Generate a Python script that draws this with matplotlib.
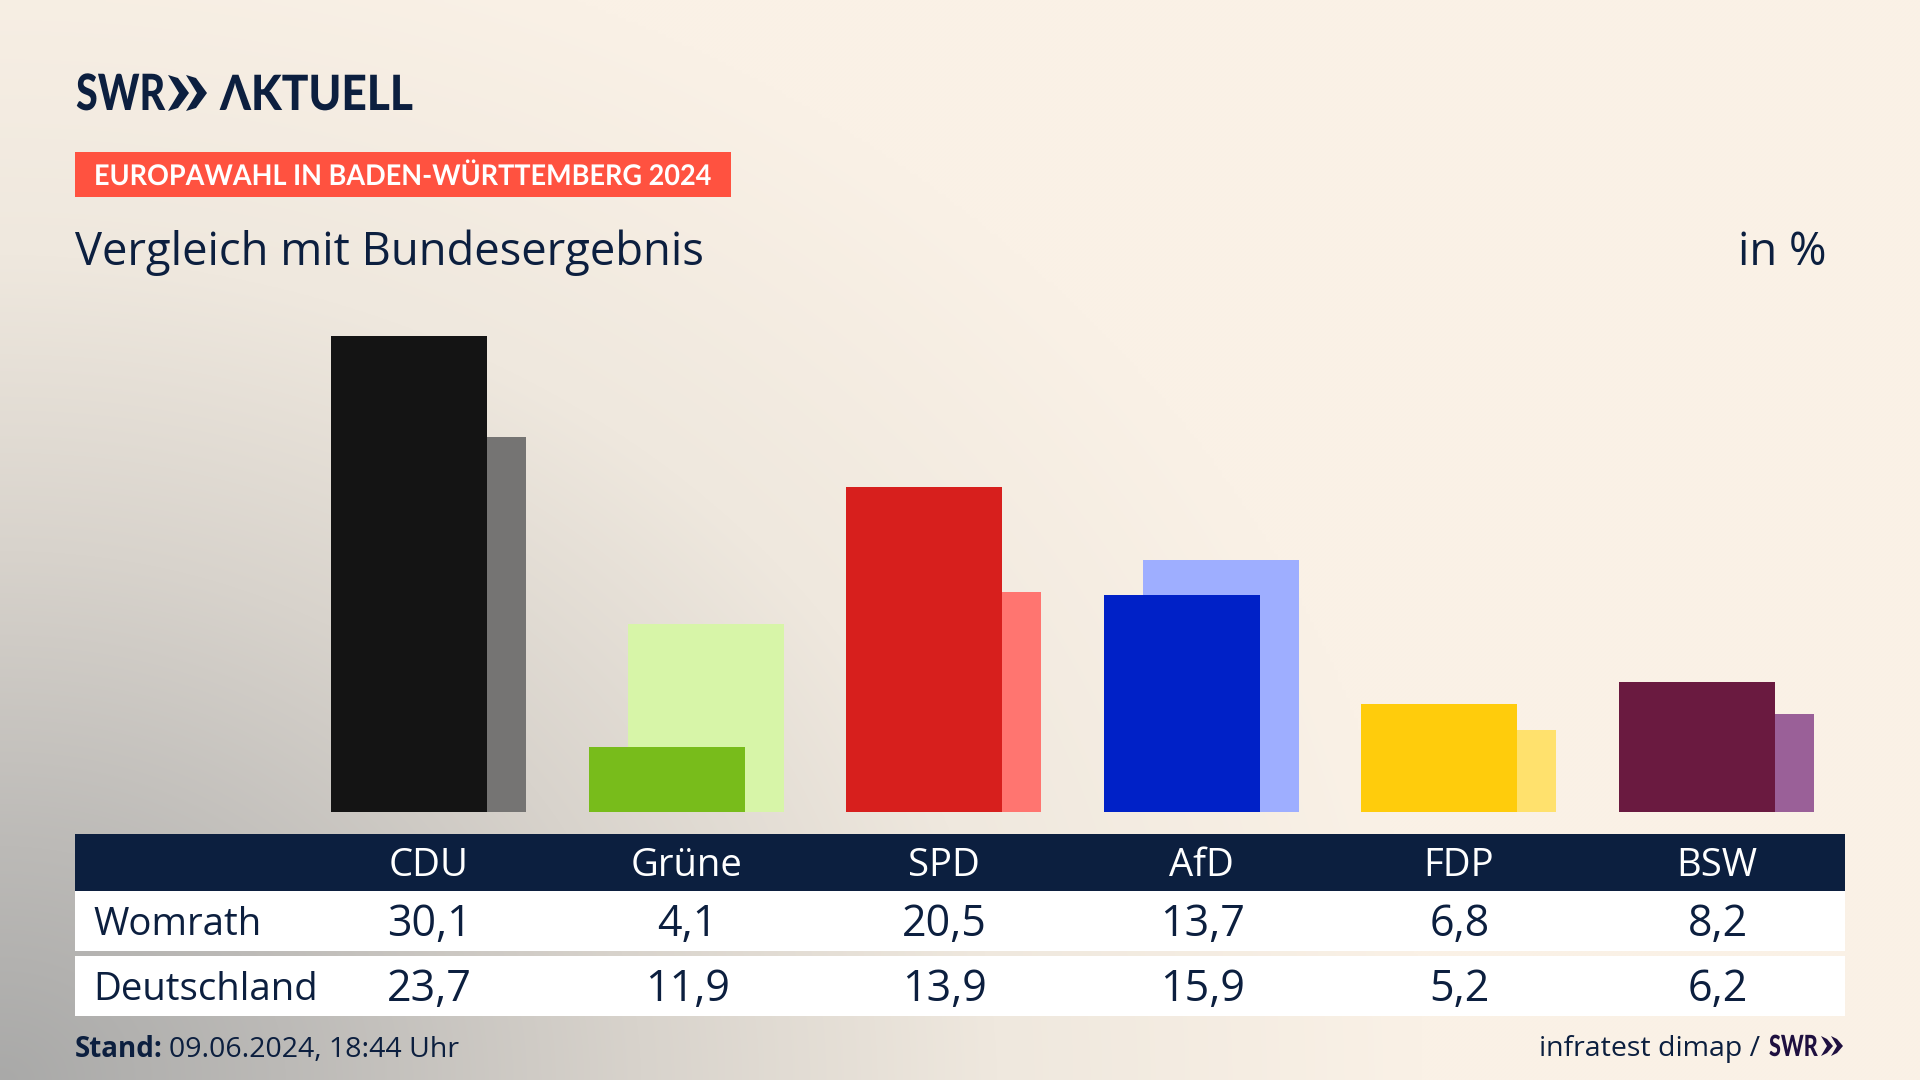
import numpy as np
import matplotlib
matplotlib.use("Agg")
import matplotlib.pyplot as plt
from matplotlib.patches import Rectangle, Polygon
from matplotlib.patheffects import AbstractPathEffect
from matplotlib.transforms import Affine2D
from matplotlib.colors import to_rgb

parties = ["CDU", "Grüne", "SPD", "AfD", "FDP", "BSW"]
womrath = [30.1, 4.1, 20.5, 13.7, 6.8, 8.2]
deutschland = [23.7, 11.9, 13.9, 15.9, 5.2, 6.2]
main_colors = ["#141414", "#78BC1B", "#D71F1D", "#0021C7", "#FFCC0C", "#6A1A40"]
back_colors = ["#757473", "#D7F5A8", "#FF7570", "#9EAEFF", "#FFE16D", "#9A6098"]
row_labels = ["Womrath", "Deutschland"]

NAVY = "#0C1F3F"
FONT = "Open Sans"

W, H = 1920, 1080
fig = plt.figure(figsize=(W / 100, H / 100), dpi=100)


class Condense(AbstractPathEffect):
    """Draw a text narrower than its font, keeping it a text artist."""

    def __init__(self, sx):
        super().__init__()
        self.sx = sx

    def draw_path(self, renderer, gc, tpath, affine, rgbFace=None):
        renderer.draw_path(gc, tpath, Affine2D().scale(self.sx, 1) + affine, rgbFace)


def box(x0, y0, x1, y1):
    return [x0 / W, 1 - y1 / H, (x1 - x0) / W, (y1 - y0) / H]


# page layer in pixel coordinates
bg = fig.add_axes([0, 0, 1, 1])
xx, yy = np.meshgrid(np.arange(0, W, 4), np.arange(0, H, 4))
t = np.clip(np.sqrt((xx / 1420) ** 2 + ((H - yy) / 1180) ** 2), 0, 1)
stops = [0, 0.2, 0.45, 0.7, 1]
cols = [to_rgb(c) for c in ["#A9A9A8", "#BCBAB7", "#D8D3CC", "#EFE8DE", "#FAF1E6"]]
img = np.dstack([np.interp(t, stops, [c[k] for c in cols]) for k in range(3)])
bg.imshow(img, extent=(0, W, H, 0), aspect="auto", interpolation="bilinear", zorder=0)
bg.set_xlim(0, W)
bg.set_ylim(H, 0)
bg.axis("off")


def chevrons(ax, x, top, bottom, w, gap, thick, color):
    mid = (top + bottom) / 2
    for k in range(2):
        x0 = x + k * gap
        ax.add_patch(Polygon([(x0, top), (x0 + thick, top + 3), (x0 + w, mid),
                              (x0 + thick, bottom - 3), (x0, bottom),
                              (x0 + w - thick, mid)], closed=True, fc=color, ec="none", zorder=3))


# logo
bg.text(76, 110, "SWR", family="Lato", weight="black", fontsize=36, color=NAVY, va="baseline", zorder=3,
        path_effects=[Condense(0.79)])
chevrons(bg, 168, 75, 111, 21, 18, 10, NAVY)
bg.text(220, 110, "ΛKTUELL", family=["Lato", "DejaVu Sans"], weight="black", fontsize=35, color=NAVY,
        va="baseline", zorder=3, path_effects=[Condense(0.91)])

# banner
bg.add_patch(Rectangle((75, 152), 656, 45, fc="#FF5240", ec="none", zorder=2))
bg.text(94, 185, "EUROPAWAHL IN BADEN-WÜRTTEMBERG 2024", family="Lato", weight="bold",
        fontsize=20.5, color="white", va="baseline", zorder=3, path_effects=[Condense(0.95)])

# headline
bg.text(75, 265, "Vergleich mit Bundesergebnis", family=FONT, fontsize=32.7, color=NAVY, va="baseline", zorder=3)
bg.text(1826, 265, "in %", family=FONT, fontsize=32.7, color=NAVY, ha="right", va="baseline", zorder=3)

# footer
bg.text(75, 1057, "Stand:", family=FONT, weight="bold", fontsize=20, color=NAVY, va="baseline", zorder=3)
bg.text(169, 1057, "09.06.2024, 18:44 Uhr", family=FONT, fontsize=20.5, color=NAVY, va="baseline", zorder=3)
bg.text(1760, 1056, "infratest dimap /", family=FONT, fontsize=20.5, color=NAVY, ha="right", va="baseline", zorder=3)
bg.text(1769, 1056, "SWR", family="Lato", weight="black", fontsize=21, color="#1F1040", va="baseline", zorder=3,
        path_effects=[Condense(0.74)])
chevrons(bg, 1821, 1036, 1056, 12, 10, 6, "#1F1040")

# bars
PITCH = 257.6
LEFT = 331
PX_PER_UNIT = 15.83
BAR = 156 / PITCH
OFFSET = 39 / PITCH
CENTER = 97.5 / PITCH
xlim = ((75 - LEFT) / PITCH, (1845 - LEFT) / PITCH)

ax = fig.add_axes(box(75, 300, 1845, 812))
ax.patch.set_alpha(0)
ax.set_xlim(*xlim)
ax.set_ylim(0, 512 / PX_PER_UNIT)
ax.axis("off")
idx = np.arange(len(parties))
ax.bar(idx + OFFSET, deutschland, width=BAR, align="edge", color=back_colors, zorder=1)
ax.bar(idx, womrath, width=BAR, align="edge", color=main_colors, zorder=2)

# table
tb = fig.add_axes(box(75, 834, 1845, 1016))
tb.patch.set_alpha(0)
tb.set_xlim(*xlim)
tb.set_ylim(1016, 834)
tb.axis("off")
tb.axhspan(834, 891, color=NAVY, lw=0)
tb.axhspan(891, 951, color="white", lw=0)
tb.axhspan(956, 1016, color="white", lw=0)
label_x = xlim[0] + 18.5 / PITCH
for i, p in enumerate(parties):
    tb.text(i + CENTER, 876, p, family=FONT, fontsize=27.5, color="white", ha="center", va="baseline")
for name, vals, base in ((row_labels[0], womrath, 936), (row_labels[1], deutschland, 1001)):
    tb.text(label_x, base - 1, name, family=FONT, fontsize=27.6, color=NAVY, va="baseline")
    for i, v in enumerate(vals):
        tb.text(i + CENTER + 1 / PITCH, base, f"{v:.1f}".replace(".", ","), family=FONT, fontsize=31,
                color=NAVY, ha="center", va="baseline")

fig.savefig("out.png", dpi=100)
